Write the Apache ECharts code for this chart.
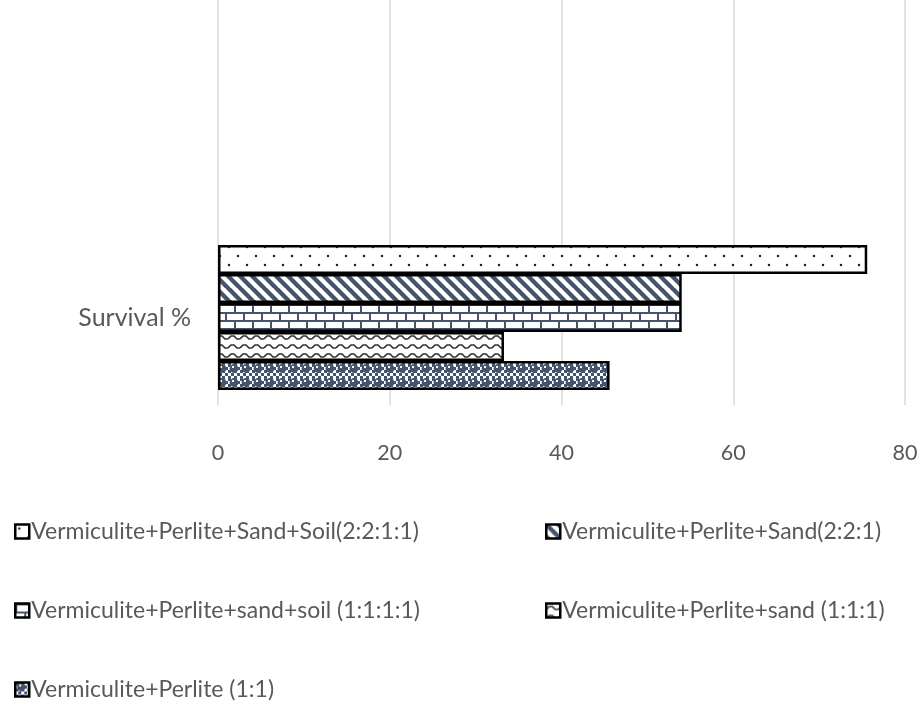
<!DOCTYPE html>
<html>
<head>
<meta charset="utf-8">
<script src="https://cdn.jsdelivr.net/npm/echarts@6/dist/echarts.min.js"></script>
<style>
  html, body { margin: 0; padding: 0; background: #ffffff; }
  #chart { width: 921px; height: 704px; }
</style>
</head>
<body>
<div id="chart"></div>
<script>
// Survival % by growing medium
const categories = ['Survival %'];
const seriesNames = [
  'Vermiculite+Perlite+Sand+Soil(2:2:1:1)',
  'Vermiculite+Perlite+Sand(2:2:1)',
  'Vermiculite+Perlite+sand+soil (1:1:1:1)',
  'Vermiculite+Perlite+sand (1:1:1)',
  'Vermiculite+Perlite (1:1)'
];
const survivalSoil2211 = [75.6];
const survivalSand221 = [54.0];
const survivalSoil1111 = [54.0];
const survivalSand111 = [33.3];
const survivalPerlite11 = [45.6];
const xTicks = [0, 20, 40, 60, 80];

const NAVY = '#44546a';

function tile(w, h, draw) {
  const c = document.createElement('canvas');
  c.width = w; c.height = h;
  const g = c.getContext('2d');
  g.fillStyle = '#ffffff';
  g.fillRect(0, 0, w, h);
  draw(g, w, h);
  return { image: c, repeat: 'repeat' };
}

// small dots, alternate rows offset
const dotFill = tile(18, 18, function (g) {
  g.fillStyle = '#222';
  [[4, 4], [13, 13]].forEach(function (p) {
    g.beginPath(); g.arc(p[0], p[1], 1.25, 0, Math.PI * 2); g.fill();
  });
});

// wide downward diagonal stripes
const diagFill = tile(12, 12, function (g, w, h) {
  g.strokeStyle = NAVY;
  g.lineWidth = 4.4;
  for (let k = -1; k <= 1; k++) {
    g.beginPath();
    g.moveTo(k * w - 1, -1);
    g.lineTo(k * w + w + 1, h + 1);
    g.stroke();
  }
});

// horizontal brick
const brickFill = tile(18, 16, function (g, w, h) {
  g.fillStyle = NAVY;
  g.fillRect(0, 0, w, 2);
  g.fillRect(0, 8, w, 2);
  g.fillRect(0, 0, 2, 8);
  g.fillRect(9, 8, 2, 8);
});

// zigzag waves
const waveFill = tile(12, 9, function (g, w, h) {
  g.strokeStyle = '#333';
  g.lineWidth = 1.7;
  g.beginPath();
  g.moveTo(0, 6);
  g.lineTo(3, 3);
  g.lineTo(6, 3);
  g.lineTo(9, 6);
  g.lineTo(12, 6);
  g.stroke();
});

// spheres over a small checker
const sphereFill = tile(12, 14, function (g, w, h) {
  g.fillStyle = NAVY;
  for (let y = 0; y < h; y += 3) {
    for (let x = 0; x < w; x += 3) {
      if (((x + y) / 3) % 2 === 0) g.fillRect(x, y, 3, 3);
    }
  }
  g.fillStyle = NAVY;
  g.beginPath(); g.arc(6, 4.5, 4.4, 0, Math.PI * 2); g.fill();
  g.fillStyle = '#ffffff';
  g.fillRect(4, 2, 2, 2);
});

const fills = [dotFill, diagFill, brickFill, waveFill, sphereFill];
const values = [survivalSoil2211, survivalSand221, survivalSoil1111, survivalSand111, survivalPerlite11];

const FONT = 'Lato';
const TEXT = '#595959';

// bars: series listed first is drawn at the top of the band
const barSeries = seriesNames.map(function (n, i) {
  return {
    name: n,
    type: 'bar',
    xAxisIndex: 0,
    yAxisIndex: 0,
    data: values[i],
    barWidth: 29,
    barGap: '0%',
    itemStyle: { color: fills[i], borderColor: '#000000', borderWidth: 2.5 },
    emphasis: { disabled: true },
    animation: false
  };
});

const legendSlots = [
  { left: 14, top: 520 },
  { left: 545, top: 520 },
  { left: 14, top: 599 },
  { left: 545, top: 599 },
  { left: 14, top: 678 }
];
const legends = seriesNames.map(function (n, i) {
  return {
    data: [n],
    left: legendSlots[i].left,
    top: legendSlots[i].top,
    padding: 0,
    itemWidth: 14,
    itemHeight: 14,
    icon: 'rect',
    selectedMode: false,
    itemStyle: { borderColor: '#000000', borderWidth: 2.5 },
    textStyle: { fontFamily: FONT, fontSize: 23, color: TEXT, padding: [0, 0, 0, -3] }
  };
});

const chart = echarts.init(document.getElementById('chart'), null, { renderer: 'canvas' });
chart.setOption({
  backgroundColor: '#ffffff',
  animation: false,
  legend: legends,
  grid: [
    { left: 218, right: 16, top: 230, height: 175 },
    { left: 218, right: 16, top: 0, height: 405 }
  ],
  xAxis: [
    {
      type: 'value', gridIndex: 0, min: 0, max: 80, interval: 20,
      axisLine: { show: false }, axisTick: { show: false },
      splitLine: { show: false },
      axisLabel: { margin: 37, fontFamily: FONT, fontSize: 21.5, color: TEXT,
        formatter: function (v) { return xTicks.indexOf(v) >= 0 ? String(v) : ''; } }
    },
    {
      type: 'value', gridIndex: 1, min: 0, max: 80, interval: 20,
      axisLine: { show: false }, axisTick: { show: false }, axisLabel: { show: false },
      splitLine: { show: true, lineStyle: { color: '#d9d9d9', width: 1.5 } }
    }
  ],
  yAxis: [
    {
      type: 'category', gridIndex: 0, data: categories,
      axisLine: { show: false }, axisTick: { show: false },
      axisLabel: { margin: 27, fontFamily: FONT, fontSize: 25, color: TEXT }
    },
    {
      type: 'category', gridIndex: 1, data: categories, show: false
    }
  ],
  series: barSeries
});
</script>
</body>
</html>
